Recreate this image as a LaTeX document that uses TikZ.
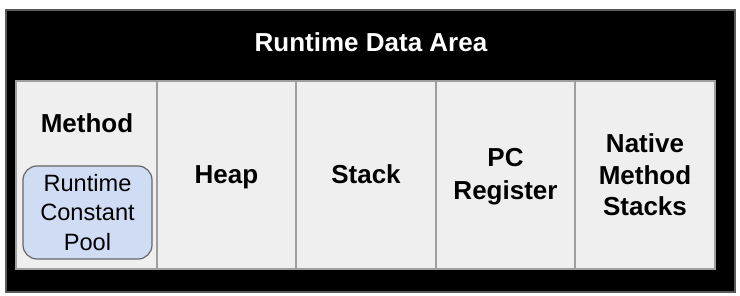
\documentclass[tikz,border=0pt]{standalone}
\usepackage{fontspec}
\setmainfont{Liberation Sans}
\definecolor{cellfill}{HTML}{EFEFEF}
\definecolor{cellline}{HTML}{9E9E9E}
\definecolor{outerline}{HTML}{5A5A5A}
\definecolor{poolfill}{HTML}{CFDCF4}
\definecolor{poolline}{HTML}{666666}
\begin{document}
\begin{tikzpicture}[x=1pt,y=-1pt,
  outerbox/.style={draw=outerline,line width=2pt,fill=black,inner sep=0pt},
  cell/.style={draw=cellline,line width=1.2pt,fill=cellfill,inner sep=0pt},
  celltext/.style={font=\fontsize{26}{32}\selectfont\bfseries,align=center,inner sep=0pt,anchor=base},
  pool/.style={draw=poolline,line width=1.2pt,fill=poolfill,rounded corners=14pt},
  pooltext/.style={font=\fontsize{23.6}{29.5}\selectfont,align=center,inner sep=0pt}]
\useasboundingbox (0,0) rectangle (740,296);
\path[outerbox] (6,10) rectangle (735,292);
\node[font=\fontsize{26}{31}\selectfont\bfseries,text=white,anchor=base] (title) at (371,52) {Runtime Data Area};
\path[cell] (16,81) rectangle (157,269);
\path[cell] (157,81) rectangle (296,269);
\path[cell] (296,81) rectangle (436,269);
\path[cell] (436,81) rectangle (575,269);
\path[cell] (575,81) rectangle (715,269);
\node[celltext] (method) at (87,133) {Method};
\path[pool] (23,166) rectangle (152,259);
\node[pooltext] (rcp) at (87.5,212.5) {Runtime\\Constant\\Pool};
\node[celltext] (heap) at (226.5,183.5) {Heap};
\node[celltext] (stack) at (366,183.5) {Stack};
\node[celltext,font=\fontsize{26}{33}\selectfont\bfseries] (pc) at (505.5,200) {PC\\Register};
\node[celltext,font=\fontsize{26}{31.5}\selectfont\bfseries] (native) at (645,216) {Native\\Method\\Stacks};
\end{tikzpicture}
\end{document}
